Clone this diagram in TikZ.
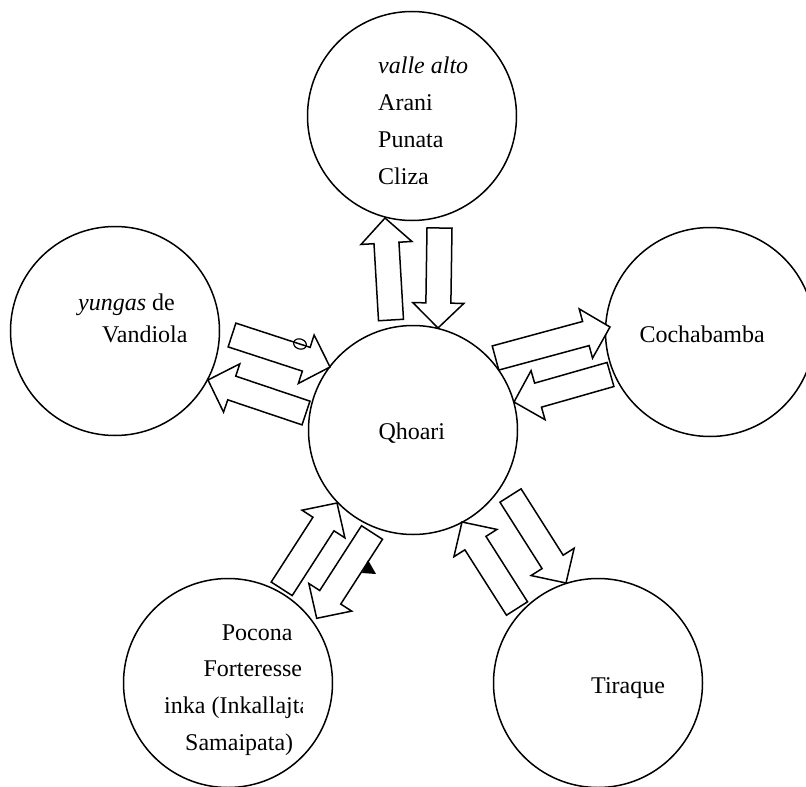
\documentclass[tikz,border=0pt]{standalone}
\usepackage{fontspec}
\setmainfont{Liberation Serif}
\usetikzlibrary{calc,shapes.geometric}
\tikzset{
  circ/.style={draw, circle, line width=1.5pt, minimum size=209pt, inner sep=0pt},
  lbl/.style={anchor=base west, inner sep=0pt, font=\fontsize{24}{29}\selectfont},
  arrowshape/.style={draw, line width=1.5pt, fill=white, line join=miter},
}
\newcommand\blockarrow[2]{%
  \coordinate (ba-s) at ($(#2)!25pt!(#1)$);
  \draw[arrowshape] ($(#1)!12.5pt!90:(#2)$) -- ($(ba-s)!12.5pt!90:(#2)$) -- ($(ba-s)!25.5pt!90:(#2)$) -- (#2)
    -- ($(ba-s)!25.5pt!-90:(#2)$) -- ($(ba-s)!12.5pt!-90:(#2)$) -- ($(#1)!12.5pt!-90:(#2)$) -- cycle;
}
\begin{document}
\begin{tikzpicture}[x=1pt,y=-1pt]
\useasboundingbox (0,0) rectangle (806,787);
\clip (0,0) rectangle (806,787);
% circles
\node[circ] (top) at (412,116) {};
\node[circ] (vand) at (115,331) {};
\node[circ] (qho) at (413,430) {};
\node[circ] (coch) at (710,332) {};
\node[circ] (tir) at (598,683) {};
\node[circ] (poc) at (228,683) {};
% texts
\node[lbl] (t1) at (378,73.5) {\itshape valle alto};
\node[lbl] (t2) at (378,110.5) {Arani};
\node[lbl] (t3) at (378,147.5) {Punata};
\node[lbl] (t4) at (378,184.5) {Cliza};
\node[lbl] (v1) at (78,310) {\textit{yungas} de};
\node[lbl] (v2) at (102,342.7) {Vandiola};
\node[lbl] (q1) at (378.3,439.3) {Qhoari};
\node[lbl] (c1) at (639.3,342.3) {Cochabamba};
\node[lbl] (r1) at (591,693.3) {Tiraque};
\begin{scope}
\clip (0,0) rectangle (302.3,787);
\node[lbl] (p1) at (221.7,640) {Pocona};
\node[lbl] (p2) at (203.3,676) {Forteresse};
\node[lbl] (p3) at (164,713.3) {inka (Inkallajta};
\node[lbl] (p4) at (185,750) {Samaipata)};
\end{scope}
% arrow end points
\coordinate (a1t) at (391,320);   \coordinate (a1h) at (385,218);
\coordinate (a2t) at (439.5,228); \coordinate (a2h) at (438,328);
\coordinate (a3t) at (232,335);   \coordinate (a3h) at (330,367);
\coordinate (a4t) at (306,413);   \coordinate (a4h) at (208,380);
\coordinate (a5t) at (495.5,358); \coordinate (a5h) at (610,327);
\coordinate (a6t) at (610.5,374.5); \coordinate (a6h) at (514,402);
\coordinate (a7t) at (517,608.5); \coordinate (a7h) at (462,522);
\coordinate (a8t) at (510.5,495.5); \coordinate (a8h) at (566,583);
\coordinate (a9t) at (281.7,588.8); \coordinate (a9h) at (337,503);
\coordinate (a10t) at (372,532.5); \coordinate (a10h) at (316.7,618.3);
\blockarrow{a1t}{a1h}
\blockarrow{a2t}{a2h}
\blockarrow{a3t}{a3h}
\blockarrow{a4t}{a4h}
\blockarrow{a5t}{a5h}
\blockarrow{a6t}{a6h}
\blockarrow{a7t}{a7h}
\blockarrow{a8t}{a8h}
\blockarrow{a9t}{a9h}
\blockarrow{a10t}{a10h}
% small marks
\node[draw, ellipse, line width=1.2pt, minimum width=13pt, minimum height=10pt, inner sep=0pt, rotate=-18] (mk) at (300,344) {};
\fill (368,560) -- (362,573) -- (376,574) -- cycle;
\end{tikzpicture}
\end{document}
